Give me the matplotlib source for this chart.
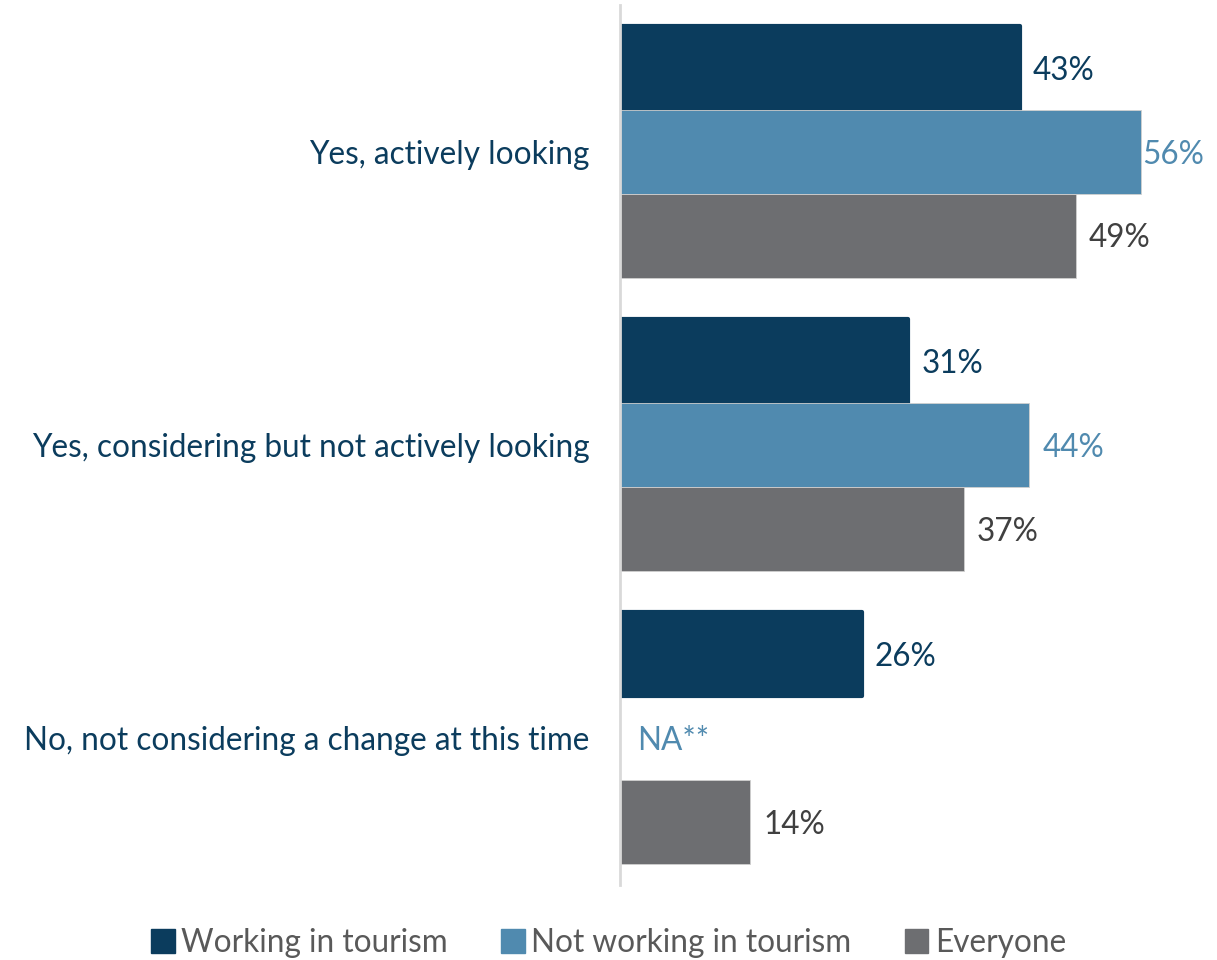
import numpy as np
import matplotlib.pyplot as plt
from matplotlib.patches import Patch

plt.rcParams['font.family'] = ['Lato', 'DejaVu Sans']

categories = ['Yes, actively looking',
              'Yes, considering but not actively looking',
              'No, not considering a change at this time']
series = ['Working in tourism', 'Not working in tourism', 'Everyone']
working = [43, 31, 26]
not_working = [56, 44, None]
everyone = [49, 37, 14]

colors = ['#0b3c5d', '#508aaf', '#6d6e71']
label_colors = ['#0b3c5d', '#508aaf', '#404040']
fs = 22.7

fig = plt.figure(figsize=(12.17, 9.6), dpi=100)
ax = fig.add_axes([620 / 1217, 75 / 960, 1 - 620 / 1217, 880 / 960])

y = np.arange(len(categories))
h = 0.286
xmax = 64.2

for i, vals in enumerate([working, not_working, everyone]):
    pos = y + (i - 1) * h
    for p, v in zip(pos, vals):
        if v is None:
            ax.text(1.8, p + 0.01, 'NA**', va='center', ha='left',
                    fontsize=fs, color=label_colors[i])
            continue
        if i == 0:
            # navy bars have slightly rounded corners
            ax.barh(p, v, height=h, color=colors[i],
                    edgecolor=colors[i], linewidth=3, joinstyle='round')
        else:
            ax.barh(p, v, height=h, color=colors[i],
                    edgecolor='#d0d0d0', linewidth=0.6)
        tx = min(v + 1.4, 56.2)
        ax.text(tx, p + 0.01, f'{v}%', va='center', ha='left',
                fontsize=fs, color=label_colors[i])

ax.set_xlim(0, xmax)
ax.set_ylim(2.5, -0.5)
ax.set_yticks(y)
ax.set_yticklabels(categories, fontsize=fs, color='#0b3c5d')
ax.tick_params(axis='y', length=0, pad=22)
ax.set_xticks([])
for s in ['top', 'right', 'bottom']:
    ax.spines[s].set_visible(False)
ax.spines['left'].set_color('#d9d9d9')
ax.spines['left'].set_linewidth(2)

handles = [Patch(facecolor=c, edgecolor=c) for c in colors]
fig.legend(handles, series, loc='center', bbox_to_anchor=(0.5, 17 / 960),
           ncol=3, frameon=False, fontsize=fs, labelcolor='#595959',
           handlelength=0.75, handleheight=0.75, handletextpad=0.2,
           columnspacing=1.7)

fig.savefig('out.png', dpi=100)
